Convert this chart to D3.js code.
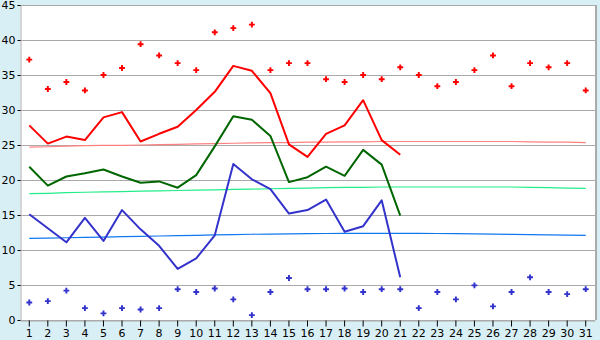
<!DOCTYPE html>
<html><head><meta charset="utf-8">
<script src="https://cdn.jsdelivr.net/npm/d3@7"></script>
<style>
html,body{margin:0;padding:0;background:#d9eff6;}
svg{display:block;}
text{font-family:"DejaVu Sans",Verdana,sans-serif;font-size:11px;fill:#000;}
</style></head><body>
<svg id="c" width="600" height="340"></svg>
<script>
const days = d3.range(1, 32);
const yTicks = [0, 5, 10, 15, 20, 25, 30, 35, 40, 45];

const maxRecord = [37.2, 33.0, 34.0, 32.8, 35.0, 36.0, 39.4, 37.8, 36.7, 35.7,
  41.1, 41.7, 42.2, 35.7, 36.7, 36.7, 34.4, 34.0, 35.0, 34.4,
  36.1, 35.0, 33.4, 34.0, 35.7, 37.8, 33.4, 36.7, 36.1, 36.7, 32.8];
const minRecord = [2.5, 2.7, 4.2, 1.7, 0.95, 1.7, 1.5, 1.7, 4.4, 4.0,
  4.5, 2.95, 0.7, 4.0, 6.0, 4.4, 4.4, 4.5, 4.0, 4.4,
  4.4, 1.7, 4.0, 2.95, 4.95, 1.95, 4.0, 6.1, 4.0, 3.7, 4.4];
const maxTemp = [27.8, 25.2, 26.2, 25.7, 28.95, 29.7, 25.5, 26.6, 27.6, 30.0,
  32.6, 36.3, 35.6, 32.4, 25.1, 23.3, 26.6, 27.8, 31.4, 25.7, 23.6];
const meanTemp = [21.9, 19.2, 20.5, 20.95, 21.5, 20.5, 19.6, 19.8, 18.9, 20.7,
  24.8, 29.1, 28.6, 26.3, 19.7, 20.4, 21.9, 20.6, 24.3, 22.2, 14.9];
const minTemp = [15.1, 13.1, 11.1, 14.6, 11.3, 15.7, 12.95, 10.6, 7.3, 8.8,
  12.1, 22.3, 20.1, 18.7, 15.2, 15.7, 17.2, 12.6, 13.4, 17.1, 6.1];
const normalMax = [24.7, 24.75, 24.85, 24.9, 24.95, 24.95, 25.0, 25.05, 25.1, 25.15,
  25.2, 25.25, 25.3, 25.35, 25.35, 25.4, 25.4, 25.45, 25.45, 25.5,
  25.5, 25.5, 25.5, 25.5, 25.5, 25.5, 25.5, 25.45, 25.4, 25.4, 25.35];
const normalMean = [18.05, 18.1, 18.2, 18.25, 18.3, 18.35, 18.4, 18.45, 18.5, 18.55,
  18.6, 18.65, 18.7, 18.75, 18.8, 18.85, 18.9, 18.95, 18.95, 19.0,
  19.0, 19.0, 19.0, 19.0, 19.0, 19.0, 19.0, 18.95, 18.9, 18.85, 18.8];
const normalMin = [11.65, 11.7, 11.75, 11.8, 11.85, 11.9, 11.95, 12.0, 12.05, 12.1,
  12.15, 12.2, 12.25, 12.28, 12.3, 12.33, 12.36, 12.38, 12.38, 12.38,
  12.38, 12.38, 12.36, 12.33, 12.3, 12.26, 12.24, 12.2, 12.15, 12.12, 12.1];

const svg = d3.select("#c");
const L = 20, R = 595, T = 5, B = 320;
const x = d3.scaleBand().domain(days).range([L, R]).padding(0);
const cx = d => x(d) + x.bandwidth() / 2;
const y = d3.scaleLinear().domain([0, 45]).range([B, T]);

svg.append("rect").attr("x", L).attr("y", T).attr("width", R - L).attr("height", B - T).attr("fill", "#fff");

// gridlines
svg.append("g").selectAll("line").data(yTicks).join("line")
  .attr("x1", L).attr("x2", R)
  .attr("y1", d => Math.round(y(d)) + 0.5).attr("y2", d => Math.round(y(d)) + 0.5)
  .attr("stroke", "#aaaaaa").attr("stroke-width", 1).attr("shape-rendering", "crispEdges");

// right border
svg.append("line").attr("x1", R + 0.5).attr("x2", R + 0.5).attr("y1", T).attr("y2", B)
  .attr("stroke", "#aaaaaa").attr("stroke-width", 2).attr("shape-rendering", "crispEdges");

// axes
const yAxis = d3.axisLeft(y).tickValues(yTicks).tickSize(3).tickPadding(2);
const gy = svg.append("g").attr("transform", `translate(${L + 0.5},0)`).call(yAxis);
gy.select(".domain").attr("stroke", "#aaaaaa");
gy.selectAll(".tick line").attr("stroke", "#000");
gy.selectAll("text").attr("fill", "#000").style("font-size", "11px").style("font-family", "DejaVu Sans");

const xAxis = d3.axisBottom(x).tickSize(6).tickPadding(3).tickSizeOuter(0);
const gx = svg.append("g").attr("transform", `translate(0,${B + 0.5})`).call(xAxis);
gx.select(".domain").attr("stroke", "#aaaaaa");
gx.selectAll(".tick line").attr("stroke", "#000");
gx.selectAll("text").attr("fill", "#000").style("font-size", "11px").style("font-family", "DejaVu Sans");

// normal lines
const line = d3.line().x((d, i) => cx(days[i])).y(d => y(d));
[[normalMax, "#ff8080"], [normalMean, "#22ee88"], [normalMin, "#1177ee"]].forEach(([arr, col]) => {
  svg.append("path").datum(arr).attr("d", line).attr("fill", "none")
    .attr("stroke", col).attr("stroke-width", 1.2);
});

// main lines
[[maxTemp, "#ff0000"], [meanTemp, "#006600"], [minTemp, "#3333cc"]].forEach(([arr, col]) => {
  svg.append("path").datum(arr).attr("d", line).attr("fill", "none")
    .attr("stroke", col).attr("stroke-width", 2).attr("stroke-linejoin", "round");
});

// record markers
const sym = d3.symbol().type(d3.symbolCross).size(19);
[[maxRecord, "#ff0000"], [minRecord, "#3333cc"]].forEach(([arr, col]) => {
  svg.append("g").selectAll("path").data(arr).join("path")
    .attr("d", sym)
    .attr("transform", (d, i) => `translate(${cx(days[i])},${y(d)})`)
    .attr("fill", col);
});
</script>
</body></html>
